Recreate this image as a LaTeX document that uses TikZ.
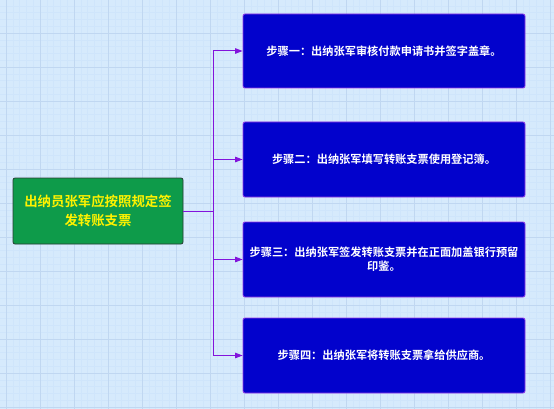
\documentclass[tikz,border=0pt]{standalone}
\usepackage{fontspec}
\newfontfamily\cjk{Noto Sans CJK SC}[BoldFont={Noto Sans CJK SC Bold}]
\usetikzlibrary{arrows.meta}
\definecolor{bgblue}{RGB}{214,234,252}
\definecolor{gridminor}{RGB}{207,229,251}
\definecolor{gridmajor}{RGB}{192,215,241}
\definecolor{stepfill}{RGB}{2,2,204}
\definecolor{stepedge}{RGB}{150,60,230}
\definecolor{mainfill}{RGB}{14,155,74}
\definecolor{mainedge}{RGB}{40,60,50}
\definecolor{linkcol}{RGB}{130,20,220}
\tikzset{
  stepbox/.style={draw=stepedge, line width=0.8pt, fill=stepfill, rounded corners=2pt,
    minimum width=282pt, minimum height=74pt, align=center,
    text=white, font=\cjk\bfseries\fontsize{11.2pt}{14pt}\selectfont, inner sep=0pt},
  mainbox/.style={draw=mainedge, line width=0.8pt, fill=mainfill, rounded corners=2pt,
    minimum width=170pt, minimum height=66pt, align=center,
    text=yellow, font=\cjk\bfseries\fontsize{13.4pt}{18.5pt}\selectfont, inner sep=0pt},
  link/.style={draw=linkcol, line width=1pt},
  arrowlink/.style={link, -{Triangle[length=7.5pt,width=5.5pt]}}
}
\begin{document}
\begin{tikzpicture}[x=1pt,y=-1pt]
\useasboundingbox (0,0) rectangle (554,409);
\fill[bgblue] (0,0) rectangle (554,409);
\foreach \i in {0,...,82} {\draw[gridminor, line width=0.4pt] ({6+\i*6.8},0) -- ({6+\i*6.8},409);}
\foreach \i in {0,...,60} {\draw[gridminor, line width=0.4pt] (0,{-1+\i*6.8}) -- (554,{-1+\i*6.8});}
\foreach \i in {0,...,16} {\draw[gridmajor, line width=0.5pt] ({6+\i*34},0) -- ({6+\i*34},409);}
\foreach \i in {0,...,12} {\draw[gridmajor, line width=0.5pt] (0,{-1+\i*34}) -- (554,{-1+\i*34});}

\node[mainbox] (main) at (98,211) {出纳员张军应按照规定签\\发转账支票};
\node[stepbox] (s1) at (384,51) {步骤一：出纳张军审核付款申请书并签字盖章。};
\node[stepbox, minimum height=75pt] (s2) at (384,159.5) {步骤二：出纳张军填写转账支票使用登记簿。};
\node[stepbox, minimum height=75pt] (s3) at (384,259.5) {步骤三：出纳张军签发转账支票并在正面加盖银行预留\\印鉴。};
\node[stepbox, minimum height=75pt] (s4) at (384,355.5) {步骤四：出纳张军将转账支票拿给供应商。};

\coordinate (j) at (213,211);
\coordinate (t1) at (213,51);
\coordinate (t2) at (213,159.5);
\coordinate (t3) at (213,259.5);
\coordinate (t4) at (213,355.5);
\draw[link] (main.east) -- (j);
\draw[link] (t1) -- (t4);
\draw[arrowlink] (t1) -- (s1.west);
\draw[arrowlink] (t2) -- (s2.west);
\draw[arrowlink] (t3) -- (s3.west);
\draw[arrowlink] (t4) -- (s4.west);
\end{tikzpicture}
\end{document}
